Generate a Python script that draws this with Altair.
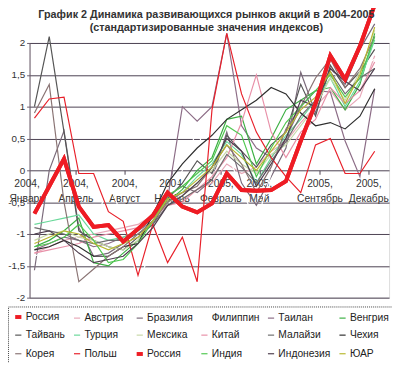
import altair as alt
import pandas as pd

# ---------------- data ----------------
months = list(range(24))  # Jan 2004 .. Dec 2005

series_names = ["Россия", "Австрия", "Бразилия", "Филиппин", "Таилан", "Венгрия",
                "Тайвань", "Турция", "Мексика", "Китай", "Малайзи", "Чехия",
                "Корея", "Польш", "Россия ", "Индия", "Индонезия", "ЮАР"]

russia = [-0.68, -0.25, 0.18, -0.57, -0.89, -0.86, -1.12, -0.92, -0.71, -0.35, -0.57, -0.66,
          -0.52, -0.05, -0.31, -0.32, -0.31, -0.17, 0.46, 1.05, 1.80, 1.43, 1.95, 2.60]
austria = [-1.30, -1.20, -1.10, -1.05, -1.00, -0.95, -0.90, -0.85, -0.70, -0.55, -0.45, -0.30,
           -0.20, 0.10, -0.05, 0.05, 0.30, 0.45, 0.75, 1.00, 1.25, 0.95, 1.15, 1.80]
brazil = [-1.57, 0.00, 0.62, -0.90, -1.35, -1.30, -1.15, -0.95, -0.75, -0.40, -0.25, -0.35,
          -0.15, 0.60, -0.20, -0.55, -0.10, 0.35, 1.54, 0.90, 1.60, 1.35, 1.90, 2.30]
philippines = [-1.35, -1.25, -1.40, -1.00, -0.95, -0.20, -0.75, -1.77, -1.20, -0.60, 0.00, 0.65,
               -0.10, 0.30, -0.30, -0.82, -0.05, 0.85, 1.10, 1.20, 1.70, 1.15, 1.60, 1.75]
thailand = [-1.25, -1.15, -1.05, -1.10, -1.20, -1.15, -1.05, -0.95, -0.80, -0.45, 1.00, 0.77,
            1.00, 2.15, 0.70, 0.35, 0.20, 0.50, 1.00, 1.25, 1.23, 0.46, -0.10, 1.28]
hungary = [-1.20, -1.10, -0.95, -0.75, -1.45, -1.50, -1.30, -1.10, -0.80, -0.50, -0.30, 0.00,
           0.20, 0.80, 0.85, 0.10, 0.50, 0.95, 1.10, 1.25, 1.30, 0.95, 1.35, 2.15]
taiwan = [1.00, 2.10, 0.60, -0.95, -1.10, -1.20, -1.25, -1.05, -0.85, -0.45, -0.20, 0.15,
          -0.05, 0.55, 0.30, 0.05, 0.40, 0.60, 1.35, 0.85, 1.65, 1.30, 1.55, 1.90]
turkey = [-0.85, -0.80, -0.75, -0.70, -1.00, -1.10, -1.05, -0.95, -0.75, -0.45, -0.35, -0.10,
          0.10, 0.45, 0.25, -0.20, 0.20, 0.55, 0.80, 1.10, 1.45, 1.00, 1.40, 2.05]
mexico = [-1.10, -1.00, -0.95, -1.05, -1.10, -1.20, -1.25, -1.10, -0.80, -0.50, -0.40, -0.20,
          0.00, 0.30, 0.10, -0.05, 0.25, 0.40, 0.70, 1.00, 1.45, 1.10, 1.55, 2.20]
china = [-1.30, -1.25, -1.20, -1.15, -1.05, -1.00, -0.95, -0.90, -0.75, -0.55, -0.50, -0.30,
         -0.10, 0.20, 0.75, 1.50, 0.60, 0.20, 0.60, 0.80, 1.30, 1.05, 1.25, 1.70]
malaysia = [-0.90, -0.95, -1.00, -1.10, -1.15, -1.10, -1.10, -1.00, -0.85, -0.55, -0.45, -0.30,
            -0.15, 0.25, 0.05, -0.20, 0.15, 0.45, 0.85, 1.10, 1.55, 1.20, 1.45, 1.60]
czech = [-1.25, -1.20, -1.10, -1.20, -1.35, -1.35, -1.20, -1.15, -0.70, -0.20, 0.10, 0.35,
         0.55, 0.80, 0.95, 1.10, 1.30, 1.20, 0.90, 0.70, 0.75, 0.65, 0.85, 1.28]
korea = [0.90, 1.35, -0.50, -1.75, -1.55, -1.35, -1.20, -1.00, -0.80, -0.50, -0.35, -0.25,
         0.05, 0.40, 0.10, -0.35, 0.05, 0.65, 1.00, 1.45, 1.75, 1.30, 1.60, 2.10]
poland = [0.82, 1.12, 1.15, -0.05, -0.05, -0.65, -0.80, -1.65, -0.85, -1.45, -1.05, -1.75,
          0.95, 2.15, 1.20, 0.60, 0.20, -0.10, -0.35, 0.40, 0.50, -0.05, -0.05, 0.30]
india = [-1.20, -1.15, -1.05, -0.85, -1.10, -1.45, -1.40, -1.15, -0.80, -0.40, -0.25, -0.05,
         0.15, 0.70, 0.55, -0.10, 0.35, 0.75, 1.00, 1.25, 1.50, 1.15, 1.45, 2.10]
indonesia = [-1.00, -0.95, -1.10, -1.30, -1.45, -1.40, -1.35, -1.15, -0.90, -0.55, -0.40, -0.20,
             0.05, 0.50, 0.30, -0.25, 0.10, 0.50, 1.10, 1.00, 1.60, 1.40, 1.25, 1.60]
sa = [-1.15, -1.05, -0.95, -1.00, -1.15, -1.25, -1.15, -1.05, -0.80, -0.45, -0.35, -0.15,
      0.05, 0.40, 0.20, 0.00, 0.30, 0.60, 0.95, 1.15, 1.55, 1.05, 1.50, 2.25]

series_values = [russia, austria, brazil, philippines, thailand, hungary,
                 taiwan, turkey, mexico, china, malaysia, czech,
                 korea, poland, russia, india, indonesia, sa]

series_colors = ["#ee1c24", "#e8a8b8", "#7a6a7a", "#ffffff", "#8c6c86", "#3cb043",
                 "#555555", "#6ad89a", "#c8d8a8", "#e890a8", "#6e6e6e", "#2e2e2e",
                 "#8a7474", "#e8202a", "#ee1c24", "#50c850", "#4e3e4e", "#b8b830"]
series_widths = [4, 1.2, 1.2, 1.2, 1.2, 1.2, 1.2, 1.2, 1.2, 1.2, 1.2, 1.2,
                 1.2, 1.2, 4, 1.2, 1.2, 1.2]

y_ticks = [-2, -1.5, -1, -0.5, 0, 0.5, 1, 1.5, 2]
tick_pos = [-0.5, 2.8, 6.1, 9.3, 12.6, 15.2, 19.3, 22.6]
tick_text = ["2004,\nЯнварь", "2004,\nАпрель", "2004,\nАвгуст", "2004,\nНоябрь",
             "2005,\nФевраль", "2005,\nМай", "2005,\nСентябрь", "2005,\nДекабрь"]

title_lines = ["График 2 Динамика развивающихся рынков акций в 2004-2005",
               "(стандартизированные значения индексов)"]

# ---------------- tables ----------------
rows = []
for name, vals in zip(series_names, series_values):
    for m, v in zip(months, vals):
        rows.append({"series": name, "m": m, "v": v})
df = pd.DataFrame(rows)
is_russia = df["series"].str.strip() == "Россия"
df_other = df[~is_russia]
df_russia = df[is_russia]
df_ticks = pd.DataFrame({"pos": tick_pos, "label": tick_text})

FONT = "Liberation Sans"

xscale = alt.Scale(domain=[-0.331, 23.97], nice=False, zero=False)
yscale = alt.Scale(domain=[-2, 2], nice=False, zero=False)

legend = alt.Legend(orient="none", legendX=-22, legendY=269, columns=6, gridAlign="each",
                    direction="horizontal", symbolType="stroke", symbolSize=40,
                    labelFont=FONT, labelFontSize=10.5, labelColor="#222",
                    padding=5, columnPadding=5, rowPadding=5, labelOffset=2,
                    strokeColor="#444", fillColor="white")
color = alt.Color("series:N", title=None,
                  scale=alt.Scale(domain=series_names, range=series_colors), legend=legend)
width_enc = alt.StrokeWidth("series:N", title=None,
                            scale=alt.Scale(type="ordinal", domain=series_names, range=series_widths))

x_axis = alt.Axis(values=tick_pos, labels=False, grid=False, offset=-130,
                  domain=False, ticks=True, tickSize=4, tickColor="#4a4050", title=None)
y_axis = alt.Axis(values=y_ticks, labelOverlap=False,
                  labelExpr="replace(toString(datum.value), '.', ',')",
                  grid=True, gridColor="#4a4050", gridWidth=1,
                  domainColor="#6a5a6a", tickColor="#6a5a6a", tickSize=3,
                  labelFont=FONT, labelFontSize=10, labelColor="#333",
                  labelPadding=2, title=None)

labels = alt.Chart(df_ticks).mark_text(
    align="center", baseline="top", dy=9, lineBreak="\n", lineHeight=15,
    font=FONT, fontSize=10.5, color="#333"
).encode(x=alt.X("pos:Q", scale=xscale, axis=x_axis),
         y=alt.YDatum(0, scale=yscale, axis=y_axis),
         text="label:N")

others = alt.Chart(df_other).mark_line(strokeJoin="miter").encode(
    x=alt.X("m:Q", scale=xscale, axis=x_axis), y=alt.Y("v:Q", scale=yscale, axis=y_axis),
    color=color, strokeWidth=width_enc, detail="series:N")
rus = alt.Chart(df_russia).mark_line(strokeJoin="miter").encode(
    x=alt.X("m:Q", scale=xscale, axis=x_axis), y=alt.Y("v:Q", scale=yscale, axis=y_axis),
    color=color, strokeWidth=width_enc, detail="series:N")

chart = alt.layer(labels, others, rus).properties(
    width=367, height=260,
    autosize=alt.AutoSizeParams(type="none"),
    padding={"left": 22, "top": 32, "right": 3, "bottom": 63},
    title=alt.TitleParams(text=title_lines, font=FONT, fontSize=11, fontWeight="bold",
                          color="#333", anchor="middle", dx=-3, offset=-37, lineHeight=13),
).configure_view(fill="#c0c0c0", stroke="transparent").configure(
    background="white").configure_legend(strokeDash=[1, 1])

chart.save("out.html", embed_options={"renderer": "svg", "actions": False})
